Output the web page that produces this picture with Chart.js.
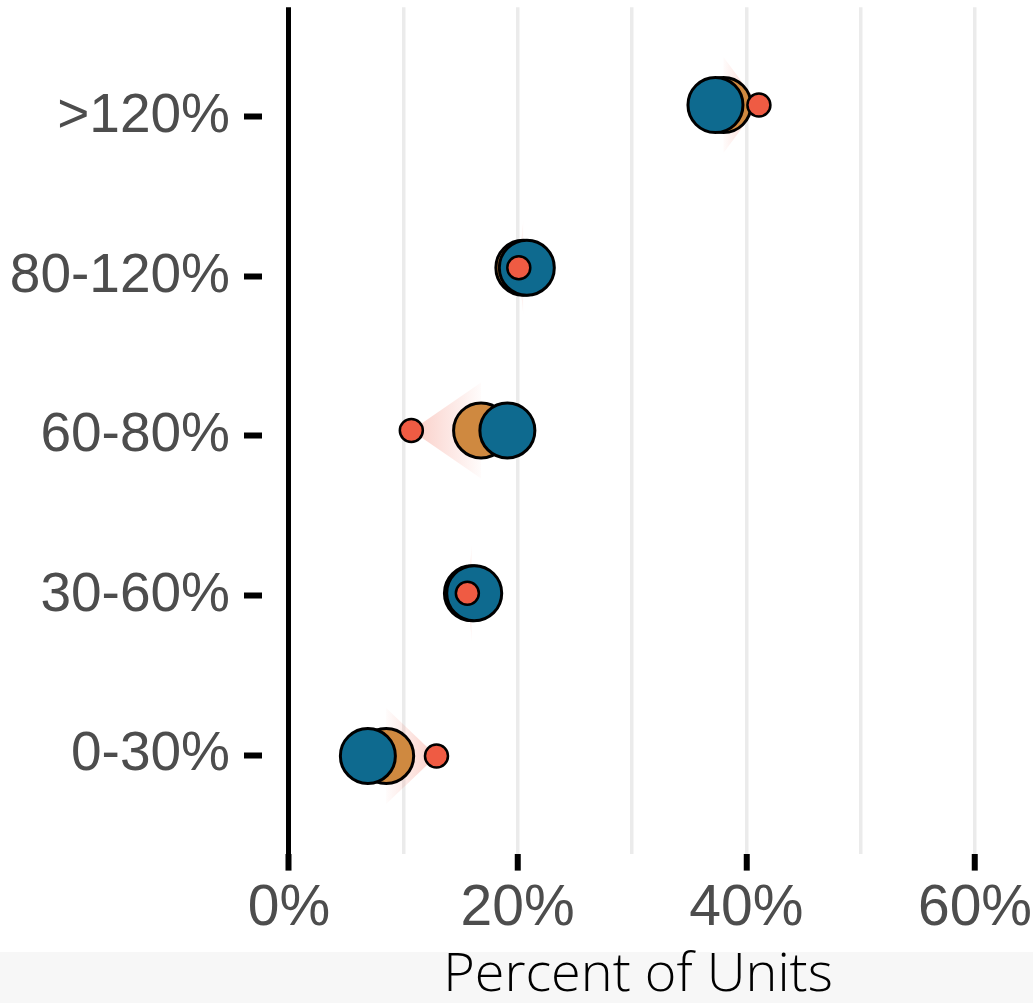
<!DOCTYPE html>
<html>
<head>
<meta charset="utf-8">
<script src="https://cdn.jsdelivr.net/npm/chart.js@4/dist/chart.umd.min.js"></script>
<style>
html,body{margin:0;padding:0;background:#fff;}
#wrap{width:1033px;height:1003px;position:relative;}
</style>
</head>
<body>
<div id="wrap"><canvas id="c"></canvas></div>
<script>
// Categories (bottom to top)
const categories = ['0-30%', '30-60%', '60-80%', '80-120%', '>120%'];
// Series values (percent of units)
const seriesOrange = [8.5, 16.0, 16.8, 20.5, 38.0];
const seriesBlue   = [6.9, 16.2, 19.1, 20.8, 37.3];
const seriesRed    = [12.9, 15.6, 10.7, 20.1, 41.1];
// X tick values and labels
const xTickValues = [0, 10, 20, 30, 40, 50, 60];
const xTickLabels = ['0%', '', '20%', '', '40%', '', '60%'];

const COL_ORANGE = '#cf8940';
const COL_BLUE = '#0e6a8f';
const COL_RED = '#ef5b43';

function pts(vals){ return categories.map((c,i)=>({x: vals[i], y: i})); }

const bgPlugin = {
  id: 'bg',
  beforeDraw(chart){
    const ctx = chart.ctx;
    ctx.save();
    ctx.fillStyle = '#ffffff';
    ctx.fillRect(0,0,chart.width,chart.height);
    ctx.fillStyle = '#f7f7f7';
    ctx.fillRect(0,952,chart.width,chart.height-952);
    ctx.restore();
  }
};

const shiftPlugin = {
  id: 'shift',
  beforeDatasetsDraw(chart){
    const ctx = chart.ctx;
    const xs = chart.scales.x, ys = chart.scales.y;
    ctx.save();
    ctx.beginPath();
    ctx.rect(chart.chartArea.left, chart.chartArea.top, chart.chartArea.right-chart.chartArea.left, chart.chartArea.bottom-chart.chartArea.top);
    ctx.clip();
    categories.forEach((c,i)=>{
      const bx = xs.getPixelForValue(seriesOrange[i]);
      const ax = xs.getPixelForValue(seriesRed[i]);
      const y = ys.getPixelForValue(i);
      const h = 48;
      if (Math.abs(ax-bx) < 1) return;
      const g = ctx.createLinearGradient(bx, 0, ax, 0);
      g.addColorStop(0, 'rgba(239,91,67,0.02)');
      g.addColorStop(1, 'rgba(239,91,67,0.30)');
      ctx.fillStyle = g;
      ctx.beginPath();
      ctx.moveTo(bx, y-h);
      ctx.lineTo(ax, y);
      ctx.lineTo(bx, y+h);
      ctx.closePath();
      ctx.fill();
    });
    ctx.restore();
  }
};

new Chart(document.getElementById('c'), {
  type: 'scatter',
  data: {
    datasets: [
      { label: 'Series C', data: pts(seriesRed), backgroundColor: COL_RED, borderColor: '#000', borderWidth: 2.5, pointRadius: 11.5, pointHoverRadius: 11.5, clip: false },
      { label: 'Series B', data: pts(seriesBlue), backgroundColor: COL_BLUE, borderColor: '#000', borderWidth: 3, pointRadius: 27.5, pointHoverRadius: 27.5, clip: false },
      { label: 'Series A', data: pts(seriesOrange), backgroundColor: COL_ORANGE, borderColor: '#000', borderWidth: 3, pointRadius: 27.5, pointHoverRadius: 27.5, clip: false }
    ]
  },
  options: {
    responsive: true,
    maintainAspectRatio: false,
    animation: false,
    layout: { autoPadding: false, padding: { top: 7.35, right: 19, left: 0, bottom: 0 } },
    plugins: { legend: { display: false }, tooltip: { enabled: false } },
    scales: {
      x: {
        type: 'linear',
        min: -2.36, max: 63.41,
        afterBuildTicks(scale){ scale.ticks = xTickValues.map(v=>({value:v})); },
        afterFit(scale){ scale.height = 149.4; scale.paddingLeft = 0; scale.paddingRight = 0; },
        border: { display: false },
        grid: {
          color: ctx => (ctx.tick && ctx.tick.value === 0) ? '#000000' : '#ebebeb',
          lineWidth: ctx => (ctx.tick && ctx.tick.value === 0) ? 5 : 3.5,
          drawTicks: true,
          tickLength: 17,
          tickWidth: 6,
          tickColor: ctx => (ctx.tick && ctx.tick.value % 20 === 0) ? '#000000' : 'rgba(0,0,0,0)'
        },
        ticks: {
          autoSkip: false, maxRotation: 0, minRotation: 0,
          padding: 4,
          color: '#4d4d4d',
          font: { family: 'Liberation Sans', size: 57 },
          callback: (v) => { const k = xTickValues.indexOf(v); return k >= 0 ? xTickLabels[k] : ''; }
        },
        title: {
          display: true, text: 'Percent of Units', color: '#000',
          font: { family: 'Open Sans', size: 54, weight: '300', lineHeight: 1.0 },
          padding: { top: 0, bottom: 0 }
        }
      },
      y: {
        type: 'linear', display: false,
        min: -0.6, max: 4.6
      },
      yAxis: {
        type: 'linear', position: 'left',
        min: -0.618, max: 4.687,
        afterBuildTicks(scale){ scale.ticks = categories.map((c,i)=>({value:i})); },
        afterFit(scale){ scale.width = 262; scale.paddingTop = 0; scale.paddingBottom = 0; },
        border: { display: false },
        grid: { drawOnChartArea: false, drawTicks: true, tickLength: 18, tickWidth: 6, tickColor: '#000' },
        ticks: {
          autoSkip: false, padding: 14,
          color: '#4d4d4d',
          font: { family: 'Liberation Sans', size: 55 },
          callback: (v) => categories[v] !== undefined ? categories[v] : ''
        }
      }
    }
  },
  plugins: [bgPlugin, shiftPlugin]
});
</script>
</body>
</html>
